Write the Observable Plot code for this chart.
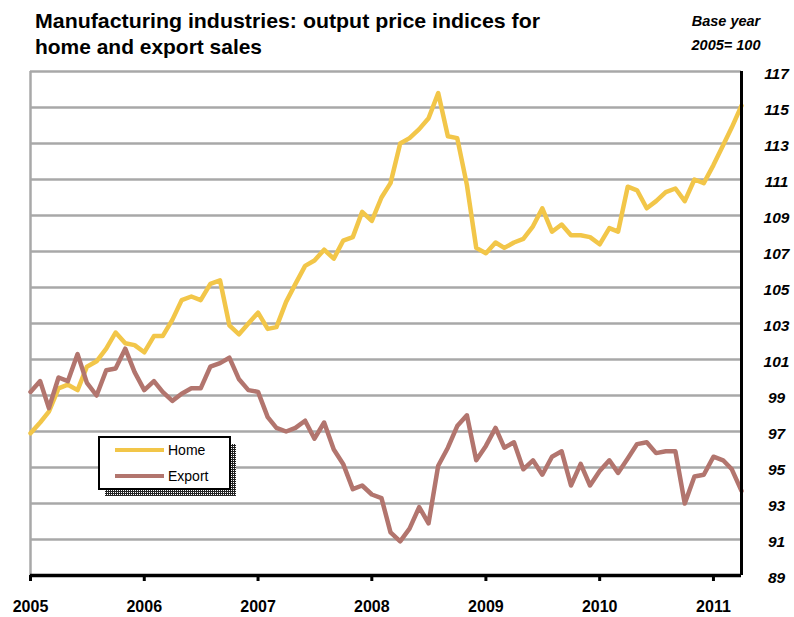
<!DOCTYPE html>
<html><head><meta charset="utf-8">
<script src="https://cdn.jsdelivr.net/npm/d3@7"></script>
<script src="https://cdn.jsdelivr.net/npm/@observablehq/plot@0.6"></script>
<style>body{margin:0;background:#fff;} #chart{width:794px;height:617px;}</style>
</head><body><div id="chart"></div>
<script>
// Monthly indices, Jan 2005 .. Apr 2011 (base year 2005 = 100)
const firstMonth = "2005-01-01";
const lastMonth = "2011-04-01";
const homeIndex = [
  96.9, 97.5, 98.1, 99.4, 99.6, 99.3, 100.6, 100.9, 101.6, 102.5, 101.9, 101.8,
  101.4, 102.3, 102.3, 103.2, 104.3, 104.5, 104.3, 105.2, 105.4, 102.9, 102.4, 103.0,
  103.6, 102.7, 102.8, 104.2, 105.2, 106.2, 106.5, 107.1, 106.6, 107.6, 107.8, 109.2,
  108.7, 110.0, 110.8, 113.0, 113.3, 113.8, 114.4, 115.8, 113.4, 113.3, 110.7, 107.2,
  106.9, 107.5, 107.2, 107.5, 107.7, 108.4, 109.4, 108.1, 108.5, 107.9, 107.9, 107.8,
  107.4, 108.3, 108.1, 110.6, 110.4, 109.4, 109.8, 110.3, 110.5, 109.8, 111.0, 110.8,
  111.8, 112.9, 113.9, 115.1
];
const exportIndex = [
  99.2, 99.8, 98.3, 100.0, 99.8, 101.3, 99.7, 99.0, 100.4, 100.5, 101.6, 100.3,
  99.3, 99.8, 99.2, 98.7, 99.1, 99.4, 99.4, 100.6, 100.8, 101.1, 99.9, 99.3,
  99.2, 97.8, 97.2, 97.0, 97.2, 97.6, 96.6, 97.5, 96.0, 95.2, 93.8, 94.0,
  93.5, 93.3, 91.4, 90.9, 91.6, 92.8, 91.9, 95.1, 96.1, 97.3, 97.9, 95.4,
  96.2, 97.2, 96.1, 96.4, 94.9, 95.4, 94.6, 95.6, 95.9, 94.0, 95.2, 94.0,
  94.8, 95.4, 94.7, 95.5, 96.3, 96.4, 95.8, 95.9, 95.9, 93.0, 94.5, 94.6,
  95.6, 95.4, 94.9, 93.7
];
const seriesNames = ["Home", "Export"];
const seriesColors = ["#F2C649", "#B2756E"];
const yTicks = [89, 91, 93, 95, 97, 99, 101, 103, 105, 107, 109, 111, 113, 115, 117];
const yearTicks = ["2005", "2006", "2007", "2008", "2009", "2010", "2011"];
const titleLines = ["Manufacturing industries: output price indices for", "home and export sales"];
const noteLines = ["Base year", "2005= 100"];

const months = d3.utcMonth.range(new Date(firstMonth), d3.utcMonth.offset(new Date(lastMonth), 1));
const rows = [];
months.forEach((d, i) => {
  rows.push({date: d, value: homeIndex[i], series: "Home"});
  rows.push({date: d, value: exportIndex[i], series: "Export"});
});
const yearDates = yearTicks.map(y => new Date(y + "-01-01"));

const font = "'Liberation Sans', Arial, Helvetica, sans-serif";
const plot = Plot.plot({
  width: 794, height: 617,
  marginLeft: 30, marginRight: 53, marginTop: 71, marginBottom: 42,
  style: {fontFamily: font, background: "#fff", color: "#000"},
  x: {type: "utc", domain: [new Date(firstMonth), new Date(lastMonth)], axis: null},
  y: {domain: [89, 117], axis: null},
  color: {domain: seriesNames, range: seriesColors},
  marks: [
    Plot.ruleY(yTicks.slice(1), {stroke: "#A8A8A8", strokeWidth: 2.5}),
    Plot.ruleX([new Date(firstMonth)], {stroke: "#A8A8A8", strokeWidth: 2.5}),
    Plot.lineY(rows, {x: "date", y: "value", z: "series", stroke: "series", strokeWidth: 4.5, strokeLinejoin: "round", strokeLinecap: "round"}),
    Plot.ruleY([89], {stroke: "#000", strokeWidth: 3.5}),
    Plot.ruleX([new Date(lastMonth)], {stroke: "#000", strokeWidth: 3}),
    Plot.axisX({ticks: yearDates, tickFormat: "%Y", tickSize: 6, tickPadding: 19, stroke: "#000", strokeWidth: 3,
      fontSize: 16, fontWeight: "bold", label: null}),
    Plot.axisY({anchor: "right", ticks: yTicks, tickSize: 0, tickPadding: 35, textAnchor: "middle",
      fontSize: 15.5, fontWeight: "bold", fontStyle: "italic", dy: 3, label: null})
  ]
});

const svg = d3.select(plot);
// Title
svg.append("text").attr("x", 35).attr("y", 28).attr("text-anchor", "start").attr("font-family", font).attr("font-size", 21).attr("font-weight", "bold")
  .attr("textLength", 505).attr("lengthAdjust", "spacingAndGlyphs").text(titleLines[0]);
svg.append("text").attr("x", 35).attr("y", 54).attr("text-anchor", "start").attr("font-family", font).attr("font-size", 21).attr("font-weight", "bold")
  .attr("textLength", 227).attr("lengthAdjust", "spacingAndGlyphs").text(titleLines[1]);
// Base year note
noteLines.forEach((t, i) => {
  svg.append("text").attr("x", 726).attr("y", 26 + i * 24).attr("text-anchor", "middle")
    .attr("font-family", font).attr("font-size", 14.5).attr("font-weight", "bold").attr("font-style", "italic").text(t);
});
// Legend
const defs = svg.append("defs");
const pat = defs.append("pattern").attr("id", "shadowDots").attr("width", 2).attr("height", 2).attr("patternUnits", "userSpaceOnUse");
pat.append("rect").attr("width", 2).attr("height", 2).attr("fill", "#222");
pat.append("rect").attr("x", 1).attr("y", 0).attr("width", 1).attr("height", 1).attr("fill", "#fff");
const lg = svg.append("g");
lg.append("rect").attr("x", 105).attr("y", 444).attr("width", 131).attr("height", 52).attr("fill", "url(#shadowDots)");
lg.append("rect").attr("x", 99).attr("y", 437).attr("width", 131).attr("height", 52).attr("fill", "#fff").attr("stroke", "#000").attr("stroke-width", 2);
seriesNames.forEach((name, i) => {
  const y = 450 + i * 26;
  lg.append("line").attr("x1", 115).attr("x2", 164).attr("y1", y).attr("y2", y)
    .attr("stroke", seriesColors[i]).attr("stroke-width", 4);
  lg.append("text").attr("x", 168).attr("y", y + 5).attr("text-anchor", "start").attr("font-family", font).attr("font-size", 14).text(name);
});

document.getElementById("chart").appendChild(plot);
</script>
</body></html>
